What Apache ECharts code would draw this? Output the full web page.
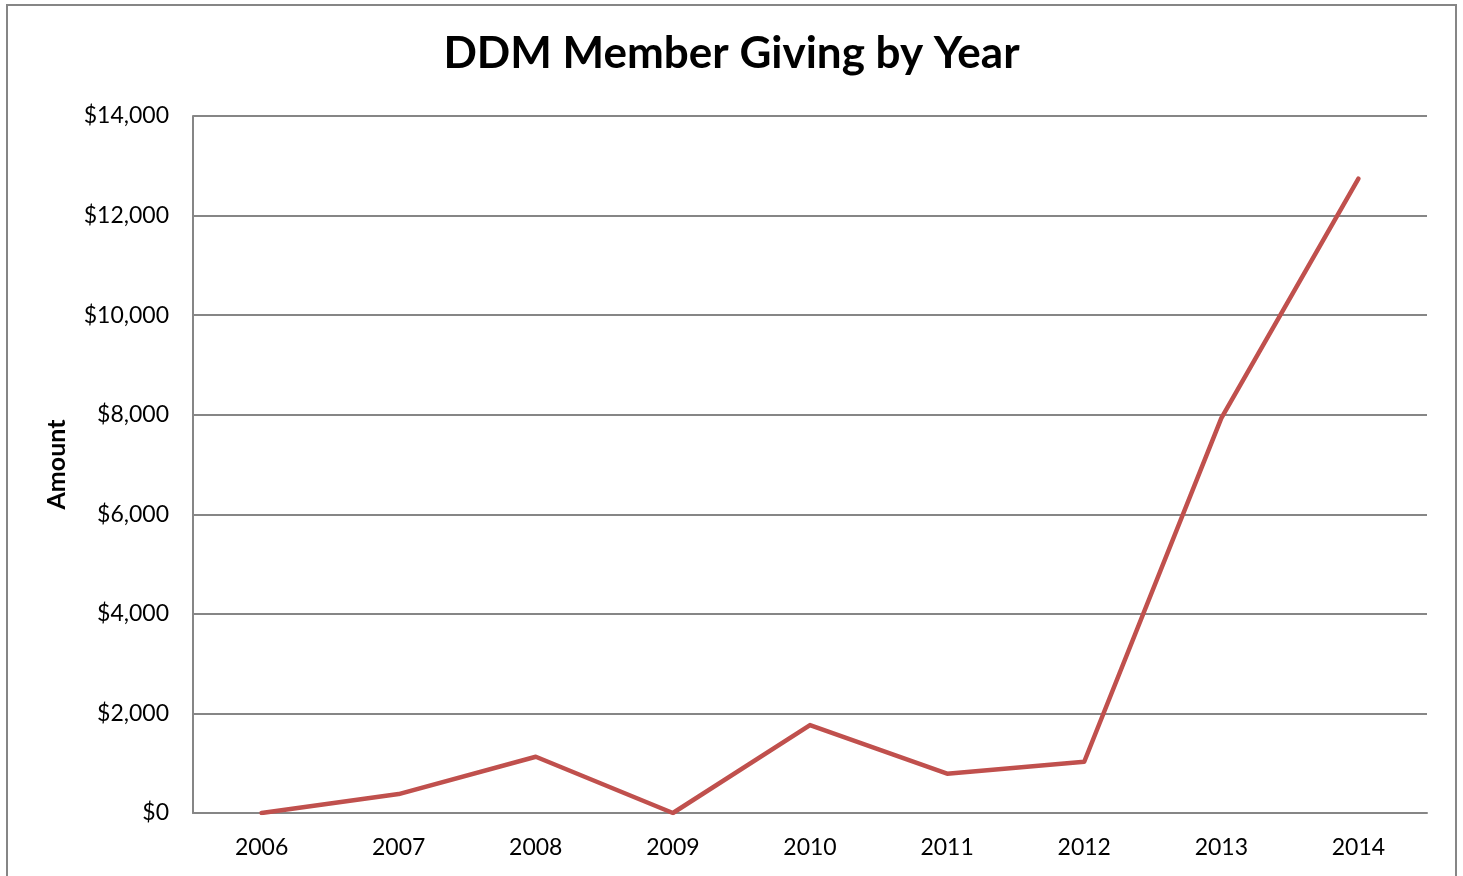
<!DOCTYPE html>
<html>
<head>
<meta charset="utf-8">
<script src="https://cdn.jsdelivr.net/npm/echarts@6/dist/echarts.min.js"></script>
<style>
html,body{margin:0;padding:0;background:#fff;}
#chart{width:1463px;height:876px;}
</style>
</head>
<body>
<div id="chart"></div>
<script>
const years = ['2006','2007','2008','2009','2010','2011','2012','2013','2014'];
const amounts = [0, 380, 1130, 0, 1765, 790, 1030, 7930, 12740];
const yTicks = [0, 2000, 4000, 6000, 8000, 10000, 12000, 14000];

const FONT = 'Lato';
const chart = echarts.init(document.getElementById('chart'));
chart.setOption({
  animation: false,
  backgroundColor: '#fff',
  graphic: [{
    type: 'rect',
    shape: {x: 7, y: 5, width: 1449, height: 900},
    style: {fill: 'none', stroke: '#868686', lineWidth: 2},
    silent: true
  }],
  title: {
    text: 'DDM Member Giving by Year',
    left: 'center',
    top: 27,
    textStyle: {fontFamily: FONT, fontWeight: 'bold', fontSize: 44, color: '#000'}
  },
  grid: {left: 193, right: 36, top: 116, bottom: 63},
  xAxis: {
    type: 'category',
    data: years,
    boundaryGap: true,
    axisLine: {lineStyle: {color: '#868686', width: 2}},
    axisTick: {show: false},
    axisLabel: {fontFamily: FONT, fontSize: 23, color: '#000', margin: 23}
  },
  yAxis: {
    type: 'value',
    min: yTicks[0],
    max: yTicks[yTicks.length - 1],
    interval: 2000,
    name: 'Amount',
    nameLocation: 'middle',
    nameGap: 124,
    nameTextStyle: {fontFamily: FONT, fontWeight: 'bold', fontSize: 25, color: '#000'},
    axisLine: {show: true, lineStyle: {color: '#868686', width: 2}},
    axisTick: {show: false},
    splitLine: {lineStyle: {color: '#868686', width: 2}},
    axisLabel: {
      fontFamily: FONT, fontSize: 23, color: '#000', margin: 24,
      formatter: v => '$' + v.toLocaleString('en-US')
    }
  },
  series: [{
    type: 'line',
    data: amounts,
    symbol: 'none',
    lineStyle: {color: '#C0504D', width: 4.5, cap: 'round', join: 'round'}
  }]
});
</script>
</body>
</html>
